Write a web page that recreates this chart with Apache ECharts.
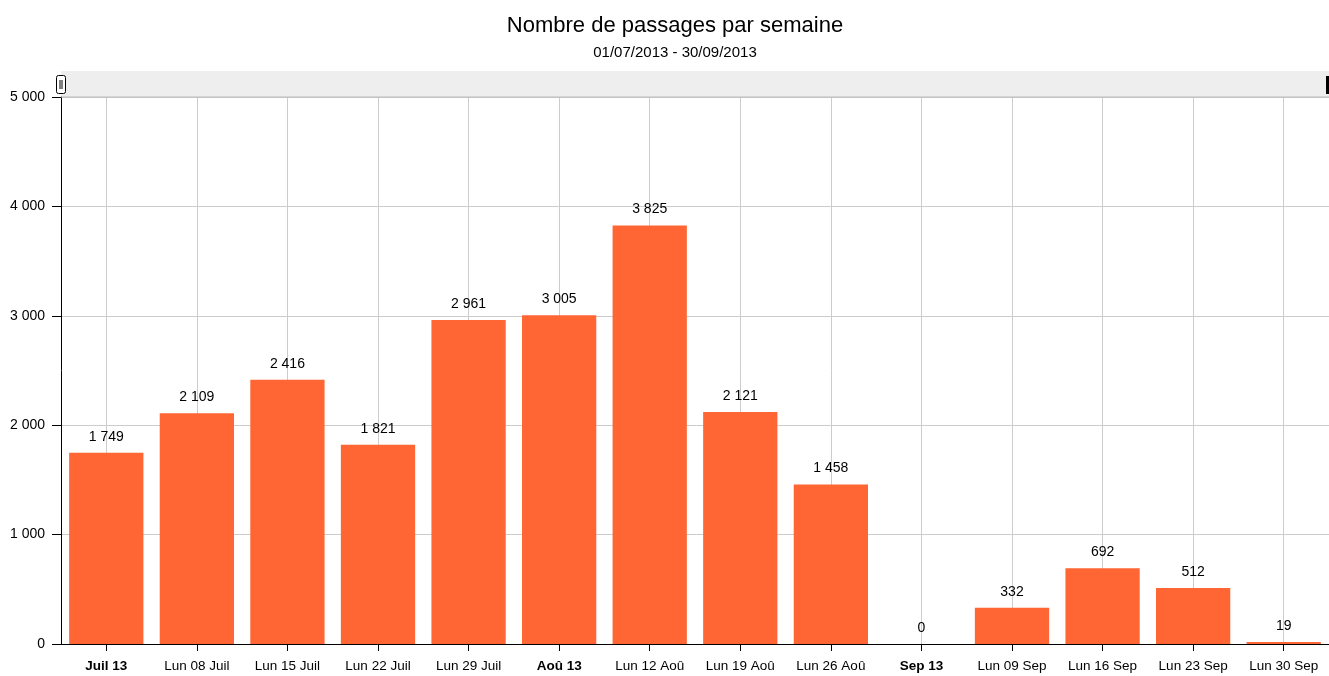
<!DOCTYPE html>
<html><head><meta charset="utf-8">
<script src="https://cdn.jsdelivr.net/npm/echarts@6/dist/echarts.min.js"></script>
<style>html,body{margin:0;padding:0;background:#fff}#c{width:1329px;height:676px}</style>
</head><body><div id="c"></div>
<script>
const categories = ['Juil 13','Lun 08 Juil','Lun 15 Juil','Lun 22 Juil','Lun 29 Juil','Aoû 13','Lun 12 Aoû','Lun 19 Aoû','Lun 26 Aoû','Sep 13','Lun 09 Sep','Lun 16 Sep','Lun 23 Sep','Lun 30 Sep'];
const boldCategories = ['Juil 13','Aoû 13','Sep 13'];
const passages = [1749, 2109, 2416, 1821, 2961, 3005, 3825, 2121, 1458, 0, 332, 692, 512, 19];
const yTicks = [0, 1000, 2000, 3000, 4000, 5000];
const titleText = 'Nombre de passages par semaine';
const subtitleText = '01/07/2013 - 30/09/2013';

const fmt = v => String(v).replace(/\B(?=(\d{3})+(?!\d))/g, ' ');
const FONT = '"Liberation Sans", Arial, sans-serif';
const chart = echarts.init(document.getElementById('c'), null, {renderer:'canvas'});
chart.setOption({
  animation: false,
  backgroundColor: '#fff',
  title: {
    text: titleText, subtext: subtitleText, left: 670, textAlign: 'center', top: 10, itemGap: 8,
    textStyle: {fontFamily: FONT, fontSize: 22, fontWeight: 'normal', color: '#000'},
    subtextStyle: {fontFamily: FONT, fontSize: 15, color: '#000'}
  },
  grid: {left: 61, right: 0, top: 97, bottom: 32, containLabel: false},
  graphic: [
    {type:'rect', left: 61, top: 71, shape:{width:1268, height:26}, style:{fill:'#eeeeee'}, z: 0},
    {type:'line', shape:{x1:61,y1:97,x2:1329,y2:97}, style:{stroke:'#bbbbbb', lineWidth:1}, z: 1},
    {type:'rect', shape:{x:56.5,y:75.5,width:9,height:18,r:2}, style:{fill:'#fff', stroke:'#000', lineWidth:1}, z: 5},
    {type:'line', shape:{x1:60,y1:80,x2:60,y2:89}, style:{stroke:'#000', lineWidth:1}, z: 6},
    {type:'line', shape:{x1:62,y1:80,x2:62,y2:89}, style:{stroke:'#000', lineWidth:1}, z: 6},
    {type:'rect', shape:{x:1326,y:76,width:3,height:18}, style:{fill:'#000'}, z: 5}
  ],
  xAxis: {
    type: 'category', data: categories,
    axisLine: {show: true, lineStyle: {color: '#000', width: 1}},
    axisTick: {show: true, alignWithLabel: true, length: 7, lineStyle: {color: '#000'}},
    splitLine: {show: true, alignWithLabel: true, lineStyle: {color: '#cccccc', width: 1}},
    axisLabel: {
      interval: 0, margin: 15, fontFamily: FONT, fontSize: 13.5, color: '#000',
      formatter: v => boldCategories.includes(v) ? '{b|' + v + '}' : v,
      rich: {b: {fontFamily: FONT, fontSize: 13.5, fontWeight: 'bold', color: '#000'}}
    }
  },
  yAxis: {
    type: 'value', min: yTicks[0], max: yTicks[yTicks.length-1], interval: 1000,
    axisLine: {show: true, lineStyle: {color: '#000'}},
    axisTick: {show: true, length: 9, lineStyle: {color: '#000'}},
    splitLine: {show: true, lineStyle: {color: '#cccccc'}},
    axisLabel: {fontFamily: FONT, fontSize: 14, color: '#000', margin: 16, formatter: v => fmt(v)}
  },
  series: [{
    type: 'bar', data: passages, barCategoryGap: '18%',
    itemStyle: {color: '#FF6633'},
    label: {show: true, position: 'top', distance: 9, fontFamily: FONT, fontSize: 14, color: '#000', formatter: p => fmt(p.value)}
  }]
});
</script></body></html>
